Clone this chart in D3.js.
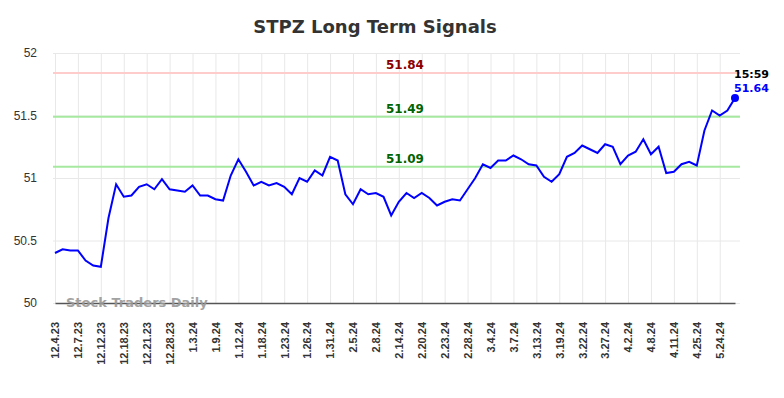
<!DOCTYPE html>
<html>
<head>
<meta charset="utf-8">
<script src="https://cdn.jsdelivr.net/npm/d3@7"></script>
<style>
    body { margin: 0; background: #fff; }
    svg { font-family: 'DejaVu Sans', sans-serif; }
    .grid line { stroke: #e8e8e8; stroke-width: 1; }
    .grid path { display: none; }
</style>
</head>
<body>
<div id="vis"></div>
<script>
// tick labels, one for every third trading day
var tickLabels = ['12.4.23', '12.7.23', '12.12.23', '12.18.23', '12.21.23', '12.28.23',
    '1.3.24', '1.9.24', '1.12.24', '1.18.24', '1.23.24', '1.26.24', '1.31.24',
    '2.5.24', '2.8.24', '2.14.24', '2.20.24', '2.23.24', '2.28.24',
    '3.4.24', '3.7.24', '3.13.24', '3.19.24', '3.22.24', '3.27.24',
    '4.2.24', '4.8.24', '4.11.24', '4.25.24', '5.24.24'];

// closing prices
var prices = [50.40, 50.43, 50.42, 50.42, 50.34, 50.30, 50.29, 50.68, 50.95, 50.85,
    50.86, 50.93, 50.95, 50.91, 50.99, 50.91, 50.90, 50.89, 50.94, 50.86,
    50.86, 50.83, 50.82, 51.02, 51.15, 51.05, 50.94, 50.97, 50.94, 50.96,
    50.93, 50.87, 51.00, 50.97, 51.06, 51.02, 51.17, 51.14, 50.87, 50.79,
    50.91, 50.87, 50.88, 50.85, 50.70, 50.81, 50.88, 50.84, 50.88, 50.84,
    50.78, 50.81, 50.83, 50.82, 50.91, 51.00, 51.11, 51.08, 51.14, 51.14,
    51.18, 51.15, 51.11, 51.10, 51.01, 50.97, 51.03, 51.17, 51.20, 51.26,
    51.23, 51.20, 51.27, 51.25, 51.11, 51.18, 51.21, 51.31, 51.19, 51.25,
    51.04, 51.05, 51.11, 51.13, 51.10, 51.38, 51.54, 51.50, 51.54, 51.64];

var yTicks = [50, 50.5, 51, 51.5, 52];

var levels = [51.84, 51.49, 51.09];
var levelLine = ['#ffcccc', '#a6e8a0', '#a6e8a0'];
var levelText = ['#8b0000', '#006400', '#006400'];

var lastTime = '15:59';

var width = 784;
var height = 398;
var margin = { left: 53, right: 44, top: 53, bottom: 95 };
var drawWidth = width - margin.left - margin.right;
var drawHeight = height - margin.top - margin.bottom;

var svg = d3.select('#vis')
    .append('svg')
    .attr('width', width)
    .attr('height', height);

var g = svg.append('g')
    .attr('transform', 'translate(' + margin.left + ',' + margin.top + ')');

var xScale = d3.scaleLinear()
    .domain([0, prices.length - 1])
    .range([2, drawWidth - 5]);

var yScale = d3.scaleLinear()
    .domain([50, 52])
    .range([drawHeight, 0]);

var tickIdx = tickLabels.map(function(d, i) { return i * 3; });

// grid
g.append('g')
    .attr('class', 'grid')
    .call(d3.axisBottom(xScale).tickValues(tickIdx).tickSize(drawHeight).tickFormat(''));

g.append('g')
    .attr('class', 'grid')
    .call(d3.axisLeft(yScale).tickValues(yTicks).tickSize(-drawWidth).tickFormat(''));

// y axis labels
var yAxis = g.append('g')
    .call(d3.axisLeft(yScale).tickValues(yTicks).tickSize(0).tickPadding(16)
        .tickFormat(d3.format('')));
yAxis.select('.domain').remove();
yAxis.selectAll('text')
    .style('font-size', '12px')
    .style('fill', '#333');

// x axis
var xAxis = g.append('g')
    .attr('transform', 'translate(0,' + drawHeight + ')')
    .call(d3.axisBottom(xScale).tickValues(tickIdx).tickSize(0)
        .tickFormat(function(d) { return tickLabels[d / 3]; }));
xAxis.select('.domain')
    .attr('stroke', '#555')
    .attr('stroke-width', 1.5);
xAxis.selectAll('text')
    .style('font-size', '11px')
    .style('font-weight', 'bold')
    .style('fill', '#333')
    .style('text-anchor', 'end')
    .attr('dx', '-19px')
    .attr('dy', '0.35em')
    .attr('x', 0)
    .attr('y', 0)
    .attr('transform', 'rotate(-90)');

// watermark
g.append('text')
    .attr('x', 13)
    .attr('y', drawHeight + 4)
    .style('font-size', '13px')
    .style('font-weight', 'bold')
    .style('fill', '#999')
    .style('opacity', 0.9)
    .text('Stock Traders Daily');

// signal levels
levels.forEach(function(v, i) {
    g.append('line')
        .attr('x1', 0)
        .attr('x2', drawWidth)
        .attr('y1', yScale(v))
        .attr('y2', yScale(v))
        .attr('stroke', levelLine[i])
        .attr('stroke-width', 2);
    g.append('text')
        .attr('x', 352)
        .attr('y', yScale(v) - 4)
        .attr('text-anchor', 'middle')
        .style('font-size', '12px')
        .style('font-weight', 'bold')
        .style('fill', levelText[i])
        .text(v.toFixed(2));
});

// price line
var line = d3.line()
    .x(function(d, i) { return xScale(i); })
    .y(function(d) { return yScale(d); });

g.append('path')
    .datum(prices)
    .attr('fill', 'none')
    .attr('stroke', '#0000ff')
    .attr('stroke-width', 2)
    .attr('d', line);

var last = prices.length - 1;
g.append('circle')
    .attr('cx', xScale(last))
    .attr('cy', yScale(prices[last]))
    .attr('r', 4)
    .attr('fill', '#0000ff');

g.append('text')
    .attr('x', xScale(last) - 1)
    .attr('y', yScale(prices[last]) - 20)
    .style('font-size', '11px')
    .style('font-weight', 'bold')
    .style('fill', '#000')
    .text(lastTime);

g.append('text')
    .attr('x', xScale(last) - 1)
    .attr('y', yScale(prices[last]) - 6)
    .style('font-size', '11px')
    .style('font-weight', 'bold')
    .style('fill', '#0000ff')
    .text(prices[last].toFixed(2));

// title
svg.append('text')
    .attr('x', 375)
    .attr('y', 33)
    .attr('text-anchor', 'middle')
    .style('font-size', '18px')
    .style('font-weight', 'bold')
    .style('fill', '#333')
    .text('STPZ Long Term Signals');
</script>
</body>
</html>
